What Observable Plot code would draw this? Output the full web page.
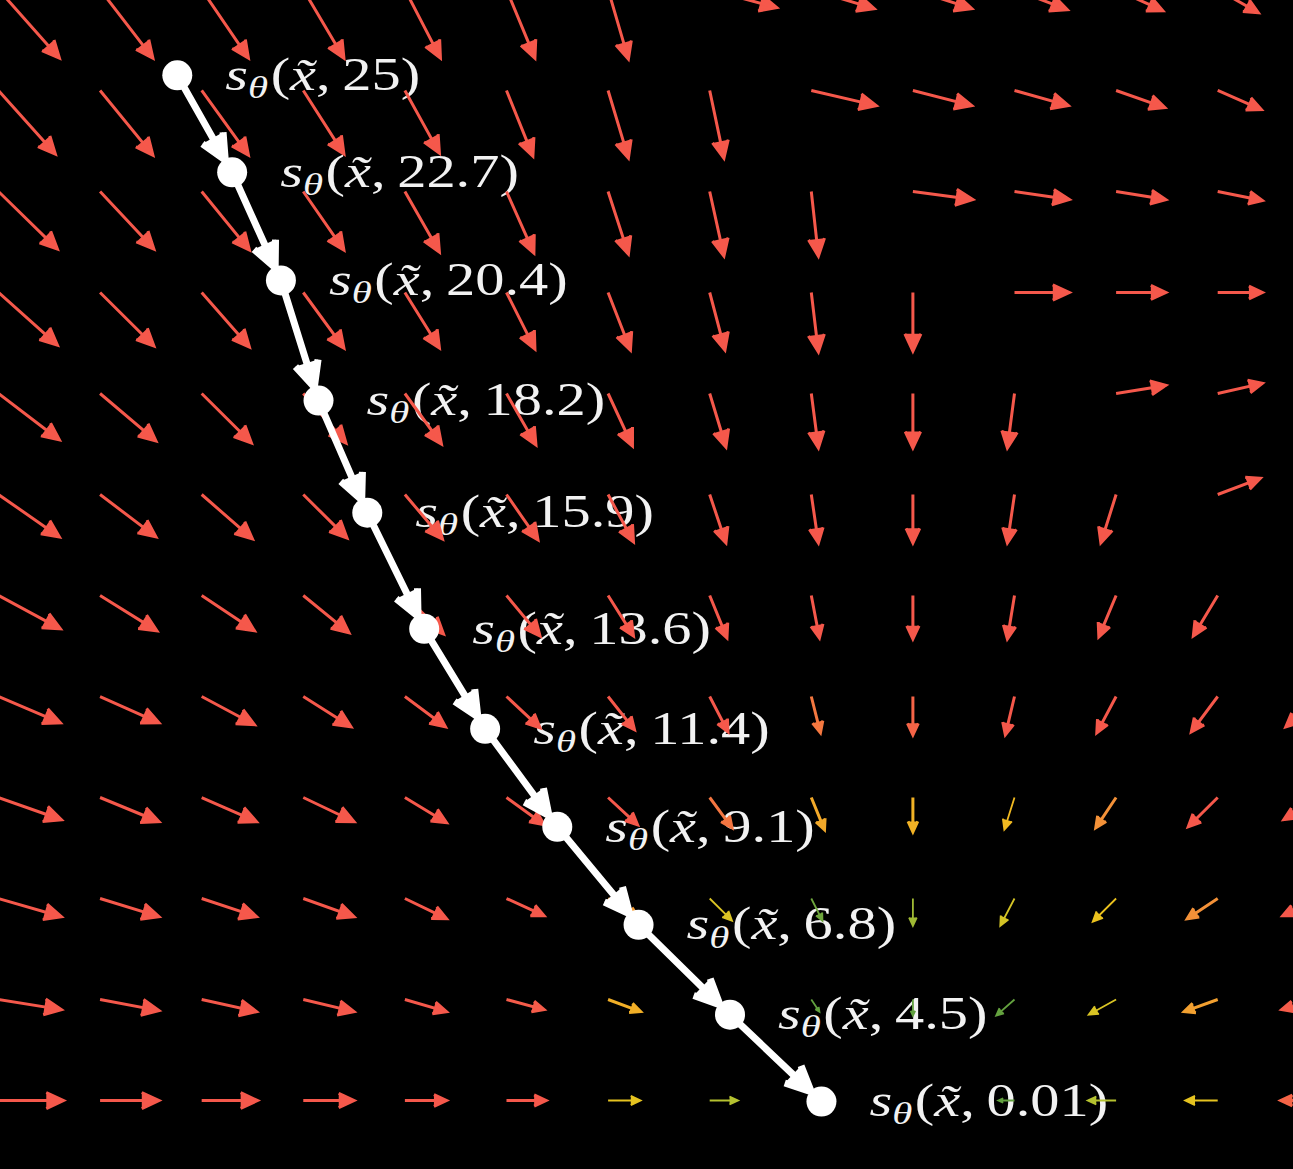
<!DOCTYPE html>
<html>
<head>
<meta charset="utf-8">
<script src="https://cdn.jsdelivr.net/npm/d3@7"></script>
<script src="https://cdn.jsdelivr.net/npm/@observablehq/plot@0.6"></script>
<style>
  html, body { margin: 0; padding: 0; background: #000; overflow: hidden; }
  #chart svg { display: block; }
</style>
</head>
<body>
<div id="chart"></div>
<script>
// sample grid of the score field (one grid step = 100 units)
const gridX = [0, 100, 200, 300, 400, 500, 600, 700, 800, 900, 1000, 1100, 1200, 1300];
const gridY = [0, 100, 200, 300, 400, 500, 600, 700, 800, 900, 1000, 1100];

// field arrow components, one row per gridY value, one entry per gridX value
const fieldDx = [
  [60, 52, 46, 40, 35, 28, 20, 66, 62, 58, 52, 46, 40, 36],
  [56, 52, 46, 40, 34, 26, 20, 14, 64, 58, 53, 48, 43, 40],
  [58, 53, 47, 40, 34, 27, 20, 14, 7, 59, 54, 49, 44, 40],
  [58, 53, 47, 40, 34, 28, 22, 15, 7, 0, 54, 49, 44, 40],
  [60, 55, 49, 42, 36, 29, 24, 16, 7, 0, -7, 49, 44, 40],
  [60, 55, 50, 43, 37, 31, 25, 16, 7, 0, -7, -15, 42, 38],
  [61, 56, 52, 45, 38, 33, 25, 17, 8, 0, -7, -17, -24, 36],
  [61, 58, 52, 47, 40, 33, 26, 18, 9, 0, -9, -19, -26, -33],
  [62, 58, 54, 50, 41, 37, 29, 22, 13, 0, -10, -20, -29, -35],
  [62, 58, 54, 50, 41, 37, 30, 22, 11, 0, -14, -23, -30, -36],
  [62, 58, 54, 50, 41, 37, 32, 22, 8, 0, -18, -27, -33, -37],
  [64, 58, 55, 50, 41, 39, 32, 28, 16, 0, -16, -28, -32, -38]
];
const fieldDy = [
  [68, 68, 68, 68, 68, 68, 69, 18, 19, 19, 20, 21, 23, 24],
  [63, 64, 64, 63, 62, 65, 67, 67, 15, 15, 15, 17, 19, 20],
  [57, 57, 58, 58, 60, 61, 62, 64, 64, 8, 8, 8, 9, 10],
  [52, 53, 54, 55, 55, 56, 57, 57, 59, 58, 0, 0, 0, 0],
  [46, 47, 49, 49, 50, 51, 52, 53, 54, 54, 54, -8, -10, -12],
  [42, 42, 44, 43, 44, 45, 47, 48, 48, 48, 48, 48, -16, -20],
  [33, 35, 35, 37, 38, 40, 40, 42, 42, 43, 43, 41, 40, -20],
  [26, 26, 28, 30, 30, 31, 33, 35, 36, 38, 38, 36, 35, 30],
  [22, 24, 24, 24, 25, 27, 27, 30, 32, 34, 32, 30, 29, 22],
  [18, 18, 18, 18, 20, 17, 19, 22, 22, 27, 27, 23, 20, 17],
  [10, 11, 12, 12, 12, 10, 12, 10, 12, 16, 16, 15, 12, 10],
  [0, 0, 0, 0, 0, 0, 0, 0, 0, 0, 0, 0, 0, 0]
];

// reverse diffusion steps and their noise levels
const stepX = [176, 230, 278, 315, 363, 419, 479, 550, 630, 720, 810];
const stepY = [85, 181, 288, 407, 518, 633, 732, 829, 926, 1015, 1101];
const noiseLevels = ["25", "22.7", "20.4", "18.2", "15.9", "13.6", "11.4", "9.1", "6.8", "4.5", "0.01"];

const renderChart = () => {
    // flatten the grid into one record per arrow
    const field = [];
    gridY.forEach((y, r) => {
        gridX.forEach((x, c) => {
            const dx = fieldDx[r][c];
            const dy = fieldDy[r][c];
            field.push({x, y, dx, dy, mag: Math.hypot(dx, dy)});
        });
    });

    const steps = stepX.map((x, i) => ({x, y: stepY[i], level: noiseLevels[i]}));
    const moves = steps.slice(1).map((d, i) => ({x1: steps[i].x, y1: steps[i].y, x2: d.x, y2: d.y}));

    // shared options for the field arrows; short ones get a thinner shaft
    const fieldArrow = {
        x1: "x", y1: "y",
        x2: (d) => d.x + d.dx, y2: (d) => d.y + d.dy,
        stroke: "mag",
        headAngle: 50,
        strokeLinecap: "butt", strokeLinejoin: "miter", strokeMiterlimit: 4,
        clip: true
    };

    const chart = Plot.plot({
        width: 1293,
        height: 1169,
        margin: 0,
        x: {axis: null, domain: [2, 1274.6], range: [0, 1293]},
        y: {axis: null, domain: [10.9, 1168.3], range: [0, 1169]},
        color: {
            type: "linear",
            domain: [24, 28.5, 33, 36, 38.5],
            range: ["#62a13f", "#bfc62e", "#f0c21c", "#f39238", "#f5584b"],
            clamp: true
        },
        style: {background: "#000", color: "#fff"},
        marks: [
            Plot.text(steps, {
                x: "x", y: "y", text: "level",
                textAnchor: "start", dx: 48,
                fill: "#f2f2f2", fontSize: 46,
                fontFamily: "'Liberation Serif', serif"
            }),
            Plot.arrow(field, {...fieldArrow, filter: (d) => d.mag >= 34, strokeWidth: 3, headLength: 9.5}),
            Plot.arrow(field, {...fieldArrow, filter: (d) => d.mag < 34, strokeWidth: 1.8, headLength: 14}),
            Plot.arrow(moves, {
                x1: "x1", y1: "y1", x2: "x2", y2: "y2",
                stroke: "#fff", strokeWidth: 7,
                headLength: 6, headAngle: 50, insetEnd: 14,
                strokeLinecap: "butt", strokeLinejoin: "miter", strokeMiterlimit: 4
            }),
            Plot.dot(steps, {x: "x", y: "y", r: 15, fill: "#fff"})
        ]
    });

    const svg = d3.select(chart);

    // solid arrow heads: fill the head sub-path with the arrow's own colour
    svg.selectAll('g[aria-label="arrow"] path').each(function () {
        const colour = this.getAttribute("stroke") || this.parentNode.getAttribute("stroke");
        this.setAttribute("fill", colour);
    });

    // turn each label into s_θ(x̃, level) with a subscript and widen it like the LaTeX original
    svg.selectAll('g[aria-label="text"] text').each(function () {
        const t = d3.select(this);
        const level = t.text();
        t.text(null);
        t.append("tspan").attr("font-style", "italic").text("s");
        t.append("tspan").attr("font-style", "italic").attr("font-size", "0.7em").attr("dy", 8).text("θ");
        t.append("tspan").attr("dy", -8).attr("dx", 2).text("(");
        t.append("tspan").attr("font-style", "italic").text("x\u0303");
        t.append("tspan").text(",\u2009" + level + ")");
        const tr = t.attr("transform");
        if (tr) {
            t.attr("transform", tr + " scale(1.27,1)");
        } else {
            const x = +t.attr("x") || 0, y = +t.attr("y") || 0;
            t.attr("x", null).attr("y", null).attr("transform", `translate(${x},${y}) scale(1.27,1)`);
        }
    });

    document.getElementById("chart").append(chart);
};

if (document.readyState === "loading") {
    document.addEventListener("DOMContentLoaded", renderChart);
} else {
    renderChart();
}
</script>
</body>
</html>
